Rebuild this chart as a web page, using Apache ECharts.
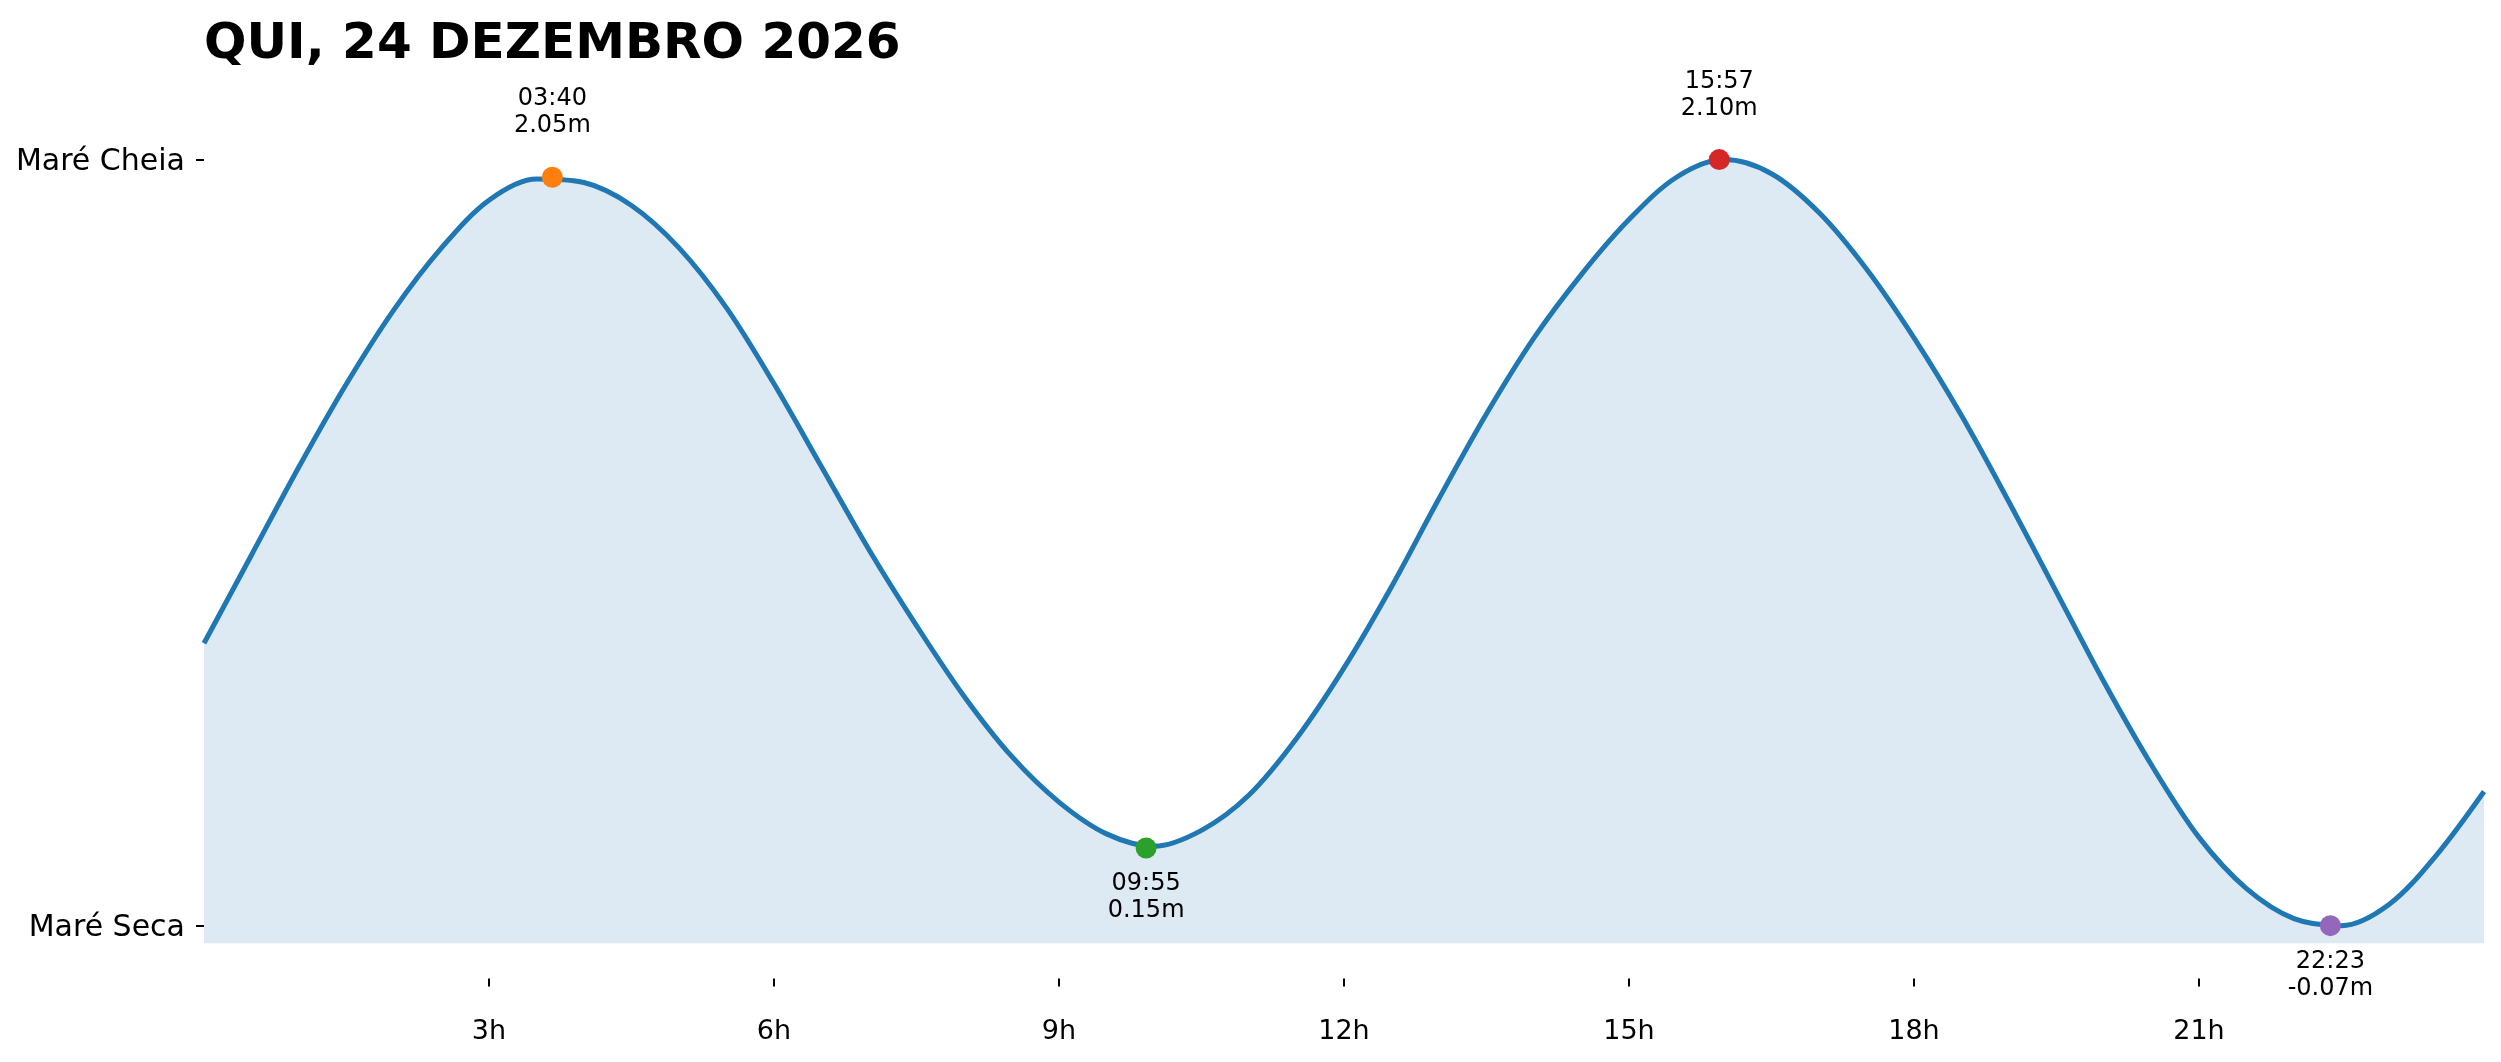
<!DOCTYPE html>
<html>
<head>
<meta charset="utf-8">
<title>Marés</title>
<script src="https://cdn.jsdelivr.net/npm/echarts@6/dist/echarts.min.js"></script>
<style>
    html, body { margin: 0; padding: 0; background: #fff; }
    #ecTide { width: 2501px; height: 1062px; }
</style>
</head>
<body>
<div id="ecTide"></div>
<script>
var titleText = 'QUI, 24 DEZEMBRO 2026';

// altura da maré de meia em meia hora (hora decimal / metros)
var tideHours = [0, 0.5, 1, 1.5, 2, 2.5, 3, 3.5, 4, 4.5, 5, 5.5, 6, 6.5, 7, 7.5, 8, 8.5, 9, 9.5, 10, 10.5, 11, 11.5,
    12, 12.5, 13, 13.5, 14, 14.5, 15, 15.5, 16, 16.5, 17, 17.5, 18, 18.5, 19, 19.5, 20, 20.5, 21, 21.5, 22, 22.5, 23, 23.5, 24];
var tideHeights = [0.73, 0.98, 1.23, 1.465, 1.675, 1.85, 1.985, 2.045, 2.035, 1.97, 1.85, 1.68, 1.465, 1.23, 0.995, 0.78, 0.58, 0.41, 0.28, 0.19, 0.155, 0.20, 0.30, 0.46,
    0.66, 0.89, 1.14, 1.38, 1.595, 1.775, 1.93, 2.05, 2.10, 2.06, 1.95, 1.79, 1.595, 1.375, 1.13, 0.875, 0.62, 0.385, 0.18, 0.035, -0.05, -0.07, -0.01, 0.13, 0.31];

// preia-mar / baixa-mar
var extremeTimes = ['03:40', '09:55', '15:57', '22:23'];
var extremeHours = [3.667, 9.917, 15.95, 22.383];
var extremeHeights = [2.05, 0.15, 2.10, -0.07];
var extremeKinds = ['cheia', 'seca', 'cheia', 'seca'];
var extremeColors = ['#ff7f0e', '#2ca02c', '#d62728', '#9467bd'];

var xTickHours = [3, 6, 9, 12, 15, 18, 21];
var yTickValues = [-0.07, 2.10];
var yTickLabels = ['Maré Seca', 'Maré Cheia'];

var fontName = 'DejaVu Sans';

var tideLine = tideHours.map(function (h, i) {
    return [h, tideHeights[i]];
});

var extremePoints = extremeHours.map(function (h, i) {
    var high = extremeKinds[i] === 'cheia';
    return {
        value: [h, extremeHeights[i]],
        itemStyle: { color: extremeColors[i], opacity: 1 },
        label: {
            position: high ? 'top' : 'bottom',
            distance: high ? 27 : 12
        }
    };
});

getechart('ecTide', null, {
    animation: false,
    backgroundColor: '#fff',
    title: {
        text: titleText,
        left: 204,
        top: 20,
        padding: 0,
        textStyle: {
            fontSize: 50,
            fontWeight: 'bold',
            color: '#000',
            fontFamily: fontName
        }
    },
    grid: {
        left: 204,
        right: 17,
        top: 53.7,
        bottom: 83.4,
        containLabel: false,
        outerBoundsMode: 'none'
    },
    xAxis: {
        type: 'value',
        min: 0,
        max: 24,
        splitLine: { show: false },
        axisLine: { show: false, onZero: false },
        axisTick: {
            show: true,
            length: 8,
            customValues: xTickHours,
            lineStyle: { color: '#000', width: 2 }
        },
        axisLabel: {
            customValues: xTickHours,
            margin: 40,
            fontSize: 27,
            color: '#000',
            fontFamily: fontName,
            formatter: function (v) { return v + 'h'; }
        }
    },
    yAxis: {
        type: 'value',
        min: -0.22,
        max: 2.40,
        splitLine: { show: false },
        axisLine: { show: false, onZero: false },
        axisTick: {
            show: true,
            length: 8,
            customValues: yTickValues,
            lineStyle: { color: '#000', width: 2 }
        },
        axisLabel: {
            customValues: yTickValues,
            margin: 19,
            formatter: function (v) {
                var best = 0;
                for (var i = 1; i < yTickValues.length; i++) {
                    if (Math.abs(yTickValues[i] - v) < Math.abs(yTickValues[best] - v)) best = i;
                }
                return '{t|' + yTickLabels[best] + '}';
            },
            rich: {
                t: {
                    fontSize: 30,
                    color: '#000',
                    fontFamily: fontName,
                    padding: [6, 0, 0, 0]
                }
            }
        }
    },
    series: [
        {
            name: 'altura',
            type: 'line',
            data: tideLine,
            smooth: 0.33,
            showSymbol: false,
            symbol: 'none',
            lineStyle: { color: '#1f77b4', width: 5 },
            areaStyle: { color: '#dde9f3', opacity: 1, origin: -0.12 },
            z: 2
        },
        {
            name: 'extremos',
            type: 'scatter',
            data: extremePoints,
            symbolSize: 21,
            z: 5,
            label: {
                show: true,
                color: '#000',
                fontSize: 24,
                lineHeight: 27,
                fontFamily: fontName,
                align: 'center',
                formatter: function (p) {
                    return extremeTimes[p.dataIndex] + '\n' + extremeHeights[p.dataIndex].toFixed(2) + 'm';
                }
            }
        }
    ]
});

function getechart(idName, themes, idOption) {
    var id = echarts.init(document.getElementById(idName), themes);
    id.setOption(idOption);
    adaptionWindows(id);
}

function adaptionWindows(chartName) {
    window.addEventListener('resize', function () {
        chartName.resize();
    });
}
</script>
</body>
</html>
